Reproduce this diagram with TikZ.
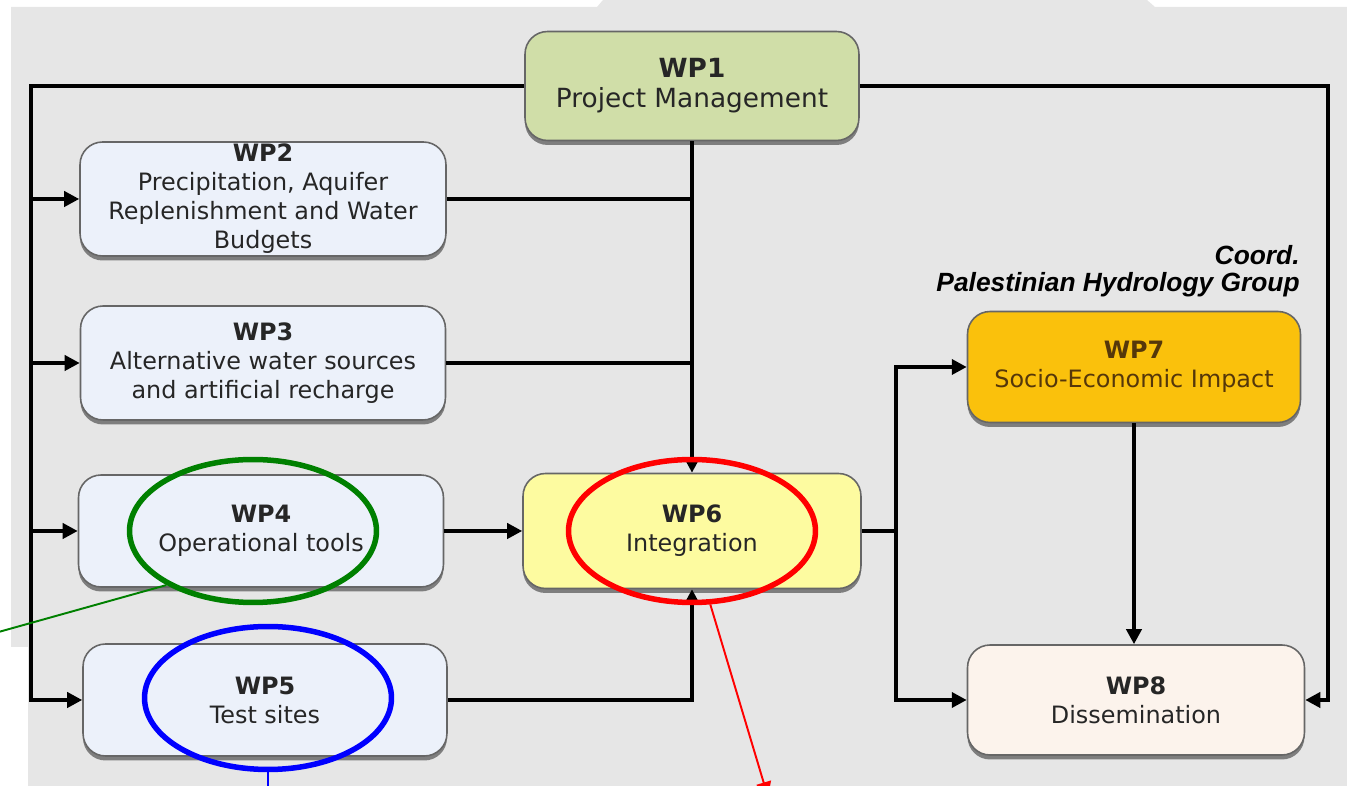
\documentclass[tikz,border=0pt]{standalone}
\usepackage{fontspec}
\setmainfont{DejaVu Sans}
\newfontfamily\labelfont{Liberation Sans}
\usetikzlibrary{arrows.meta,shapes.geometric,shadows}
\definecolor{bggray}{RGB}{230,230,230}
\definecolor{wpgreen}{RGB}{208,222,168}
\definecolor{wpblue}{RGB}{236,241,250}
\definecolor{wpyellow}{RGB}{253,251,160}
\definecolor{wporange}{RGB}{250,193,12}
\definecolor{wppeach}{RGB}{252,243,236}
\definecolor{wpbrown}{RGB}{85,55,10}
\definecolor{markgreen}{RGB}{0,128,0}
\begin{document}
\begin{tikzpicture}[x=0.02cm,y=-0.02cm,
      wp/.style={draw=black!60,line width=0.9pt,rounded corners=0.45cm,align=center,inner sep=0pt,
        text=black!85,font=\fontsize{13.6}{16.5}\selectfont,
        drop shadow={shadow xshift=0cm,shadow yshift=-0.09cm,fill=black!55,opacity=0.9}},
      conn/.style={line width=2.1pt},
      arr/.style={conn,-{Triangle[length=0.3cm,width=0.3cm]}},
      ring/.style={ellipse,draw,line width=0.11cm,inner sep=0pt,minimum width=4.94cm,minimum height=2.86cm}]
   \useasboundingbox (0,0) rectangle (1347,786);
   \clip (0,0) rectangle (1347,786);
   % backdrop
   \fill[bggray] (11,7) -- (597,7) -- (603,0) -- (1147,0) -- (1155,7) -- (1347,7)
      -- (1347,786) -- (28,786) -- (28,647) -- (11,647) -- cycle;
   % work packages
   \node[wp,fill=wpgreen,minimum width=6.68cm,minimum height=2.18cm,font=\fontsize{15}{17}\selectfont] (wp1) at (692,86) {\textbf{WP1}\\Project Management};
   \node[wp,fill=wpblue,minimum width=7.32cm,minimum height=2.28cm] (wp2) at (263,199) {\textbf{WP2}\\Precipitation, Aquifer\\Replenishment and Water\\Budgets};
   \node[wp,fill=wpblue,minimum width=7.3cm,minimum height=2.28cm] (wp3) at (263,363) {\textbf{WP3}\\Alternative water sources\\and artificial recharge};
   \node[wp,fill=wpblue,minimum width=7.3cm,minimum height=2.24cm] (wp4) at (261,531) {\textbf{WP4}\\Operational tools};
   \node[wp,fill=wpblue,minimum width=7.28cm,minimum height=2.24cm] (wp5) at (265,700) {\textbf{WP5}\\Test sites};
   \node[wp,fill=wpyellow,minimum width=6.76cm,minimum height=2.3cm] (wp6) at (692,531) {\textbf{WP6}\\Integration};
   \node[wp,fill=wporange,text=wpbrown,minimum width=6.66cm,minimum height=2.22cm] (wp7) at (1134,367) {\textbf{WP7}\\Socio-Economic Impact};
   \node[wp,fill=wppeach,minimum width=6.74cm,minimum height=2.2cm] (wp8) at (1136,700) {\textbf{WP8}\\Dissemination};
   \node[font=\labelfont\bfseries\itshape\fontsize{15}{15.4}\selectfont,align=right,anchor=north east,inner sep=0pt] (coord) at (1300,245) {Coord.\\Palestinian Hydrology Group};
   % links
   \coordinate (busL) at (31,0);
   \coordinate (busR) at (1328,0);
   \coordinate (j6) at (896,531);
   \draw[arr] (wp1.west) -| (busL |- wp5.west) -- (wp5.west);
   \draw[arr] (busL |- wp2.west) -- (wp2.west);
   \draw[arr] (busL |- wp3.west) -- (wp3.west);
   \draw[arr] (busL |- wp4.west) -- (wp4.west);
   \draw[arr] (wp1.east) -| (busR |- wp8.east) -- (wp8.east);
   \draw[arr] (wp1.south) -- (wp6.north);
   \draw[conn] (wp2.east) -- (wp2.east -| wp1.south);
   \draw[conn] (wp3.east) -- (wp3.east -| wp1.south);
   \draw[arr] (wp4.east) -- (wp4.east -| wp6.west);
   \draw[arr] (wp5.east) -| (wp6.south);
   \draw[conn] (wp6.east) -- (j6);
   \draw[arr] (j6) |- (wp7.west);
   \draw[arr] (j6) |- (wp8.west);
   \draw[arr] (wp7.south) -- (wp7.south |- wp8.north);
   % marks
   \node[ring,draw=markgreen] (ringG) at (253,531) {};
   \node[ring,draw=blue] (ringB) at (268,698) {};
   \node[ring,draw=red] (ringR) at (692,531) {};
   \coordinate (endG) at (-5,633);
   \coordinate (endB) at (268,800);
   \coordinate (endR) at (768,797);
   \draw[markgreen,line width=1.1pt] (ringG.212) -- (endG);
   \draw[blue,line width=1.1pt] (ringB.south) -- (endB);
   \draw[red,line width=1.1pt,-{Triangle[length=0.3cm,width=0.3cm]}] (ringR.284) -- (endR);
\end{tikzpicture}
\end{document}
